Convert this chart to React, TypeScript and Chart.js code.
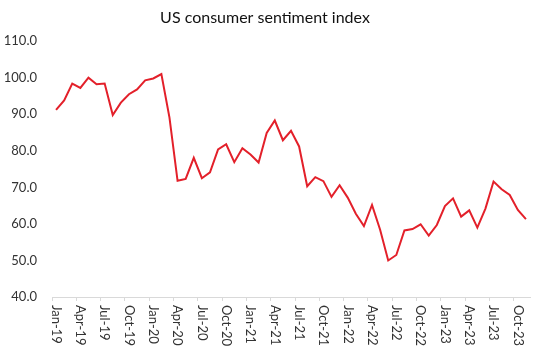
import React, { useEffect, useRef } from "react";
import { Chart, registerables } from "chart.js";

Chart.register(...registerables);

const months = ["Jan", "Feb", "Mar", "Apr", "May", "Jun", "Jul", "Aug", "Sep", "Oct", "Nov", "Dec"];
const years = ["19", "20", "21", "22", "23"];

const sentiment2019 = [91.2, 93.8, 98.4, 97.2, 100.0, 98.2, 98.4, 89.8, 93.2, 95.5, 96.8, 99.3];
const sentiment2020 = [99.8, 101.0, 89.1, 71.8, 72.3, 78.1, 72.5, 74.1, 80.4, 81.8, 76.9, 80.7];
const sentiment2021 = [79.0, 76.8, 84.9, 88.3, 82.9, 85.5, 81.2, 70.3, 72.8, 71.7, 67.4, 70.6];
const sentiment2022 = [67.2, 62.8, 59.4, 65.2, 58.4, 50.0, 51.5, 58.2, 58.6, 59.9, 56.8, 59.7];
const sentiment2023 = [64.9, 67.0, 62.0, 63.7, 59.0, 64.2, 71.6, 69.5, 67.9, 63.8, 61.3];

const yTicks = [40, 50, 60, 70, 80, 90, 100, 110];

const values = [...sentiment2019, ...sentiment2020, ...sentiment2021, ...sentiment2022, ...sentiment2023];
const labels: string[] = [];
years.forEach((y) => months.forEach((m) => labels.push(`${m}-${y}`)));
labels.length = values.length;

const FONT = "Lato, 'Open Sans', sans-serif";

const xLabelPlugin = {
  id: "xLabels",
  afterDraw(chart: any) {
    const scale = chart.scales.x;
    const ctx = chart.ctx;
    ctx.save();
    ctx.font = `13px ${FONT}`;
    ctx.fillStyle = "#333333";
    ctx.textAlign = "left";
    ctx.textBaseline = "middle";
    labels.forEach((lab, i) => {
      if (i % 3 !== 0) return;
      const x = scale.getPixelForValue(i);
      ctx.save();
      ctx.translate(x, scale.top + 8);
      ctx.rotate(Math.PI / 2);
      ctx.fillText(lab, 0, 0);
      ctx.restore();
    });
    ctx.restore();
  },
};

export default function App() {
  const ref = useRef<HTMLCanvasElement>(null);
  useEffect(() => {
    if (!ref.current) return;
    const chart = new Chart(ref.current, {
      type: "line",
      data: {
        labels,
        datasets: [
          {
            data: values,
            borderColor: "#E3202A",
            borderWidth: 2,
            pointRadius: 0,
            tension: 0,
            fill: false,
          },
        ],
      },
      options: {
        responsive: false,
        animation: false,
        layout: { padding: { left: 0, right: 10, top: 0, bottom: 0 } },
        plugins: {
          legend: { display: false },
          tooltip: { enabled: false },
          title: {
            display: true,
            text: "US consumer sentiment index",
            color: "#111111",
            font: { family: FONT, size: 16, weight: "normal" },
            padding: { top: 8, bottom: 14 },
          },
        },
        scales: {
          x: {
            type: "category",
            offset: true,
            grid: {
              offset: true,
              drawOnChartArea: false,
              drawTicks: true,
              tickLength: 4,
              color: (c: any) => (c.index % 3 === 0 ? "#d9d9d9" : "rgba(0,0,0,0)"),
            },
            border: { display: true, color: "#d9d9d9", width: 1 },
            ticks: { display: false, autoSkip: false },
            afterFit: (s: any) => {
              s.height = 56;
            },
          },
          y: {
            min: 40,
            max: 110,
            afterBuildTicks: (s: any) => {
              s.ticks = yTicks.map((v) => ({ value: v }));
            },
            grid: { display: false, drawTicks: false },
            border: { display: false },
            ticks: {
              padding: 15,
              color: "#333333",
              font: { family: FONT, size: 13 },
              callback: (v: any) => Number(v).toFixed(1),
            },
            afterFit: (s: any) => {
              s.width = 52;
            },
          },
        },
      },
      plugins: [xLabelPlugin],
    });
    return () => chart.destroy();
  }, []);
  return (
    <div style={{ position: "absolute", left: 0, top: 0, width: 540, height: 353, background: "#fff" }}>
      <canvas ref={ref} width={540} height={353} />
    </div>
  );
}
